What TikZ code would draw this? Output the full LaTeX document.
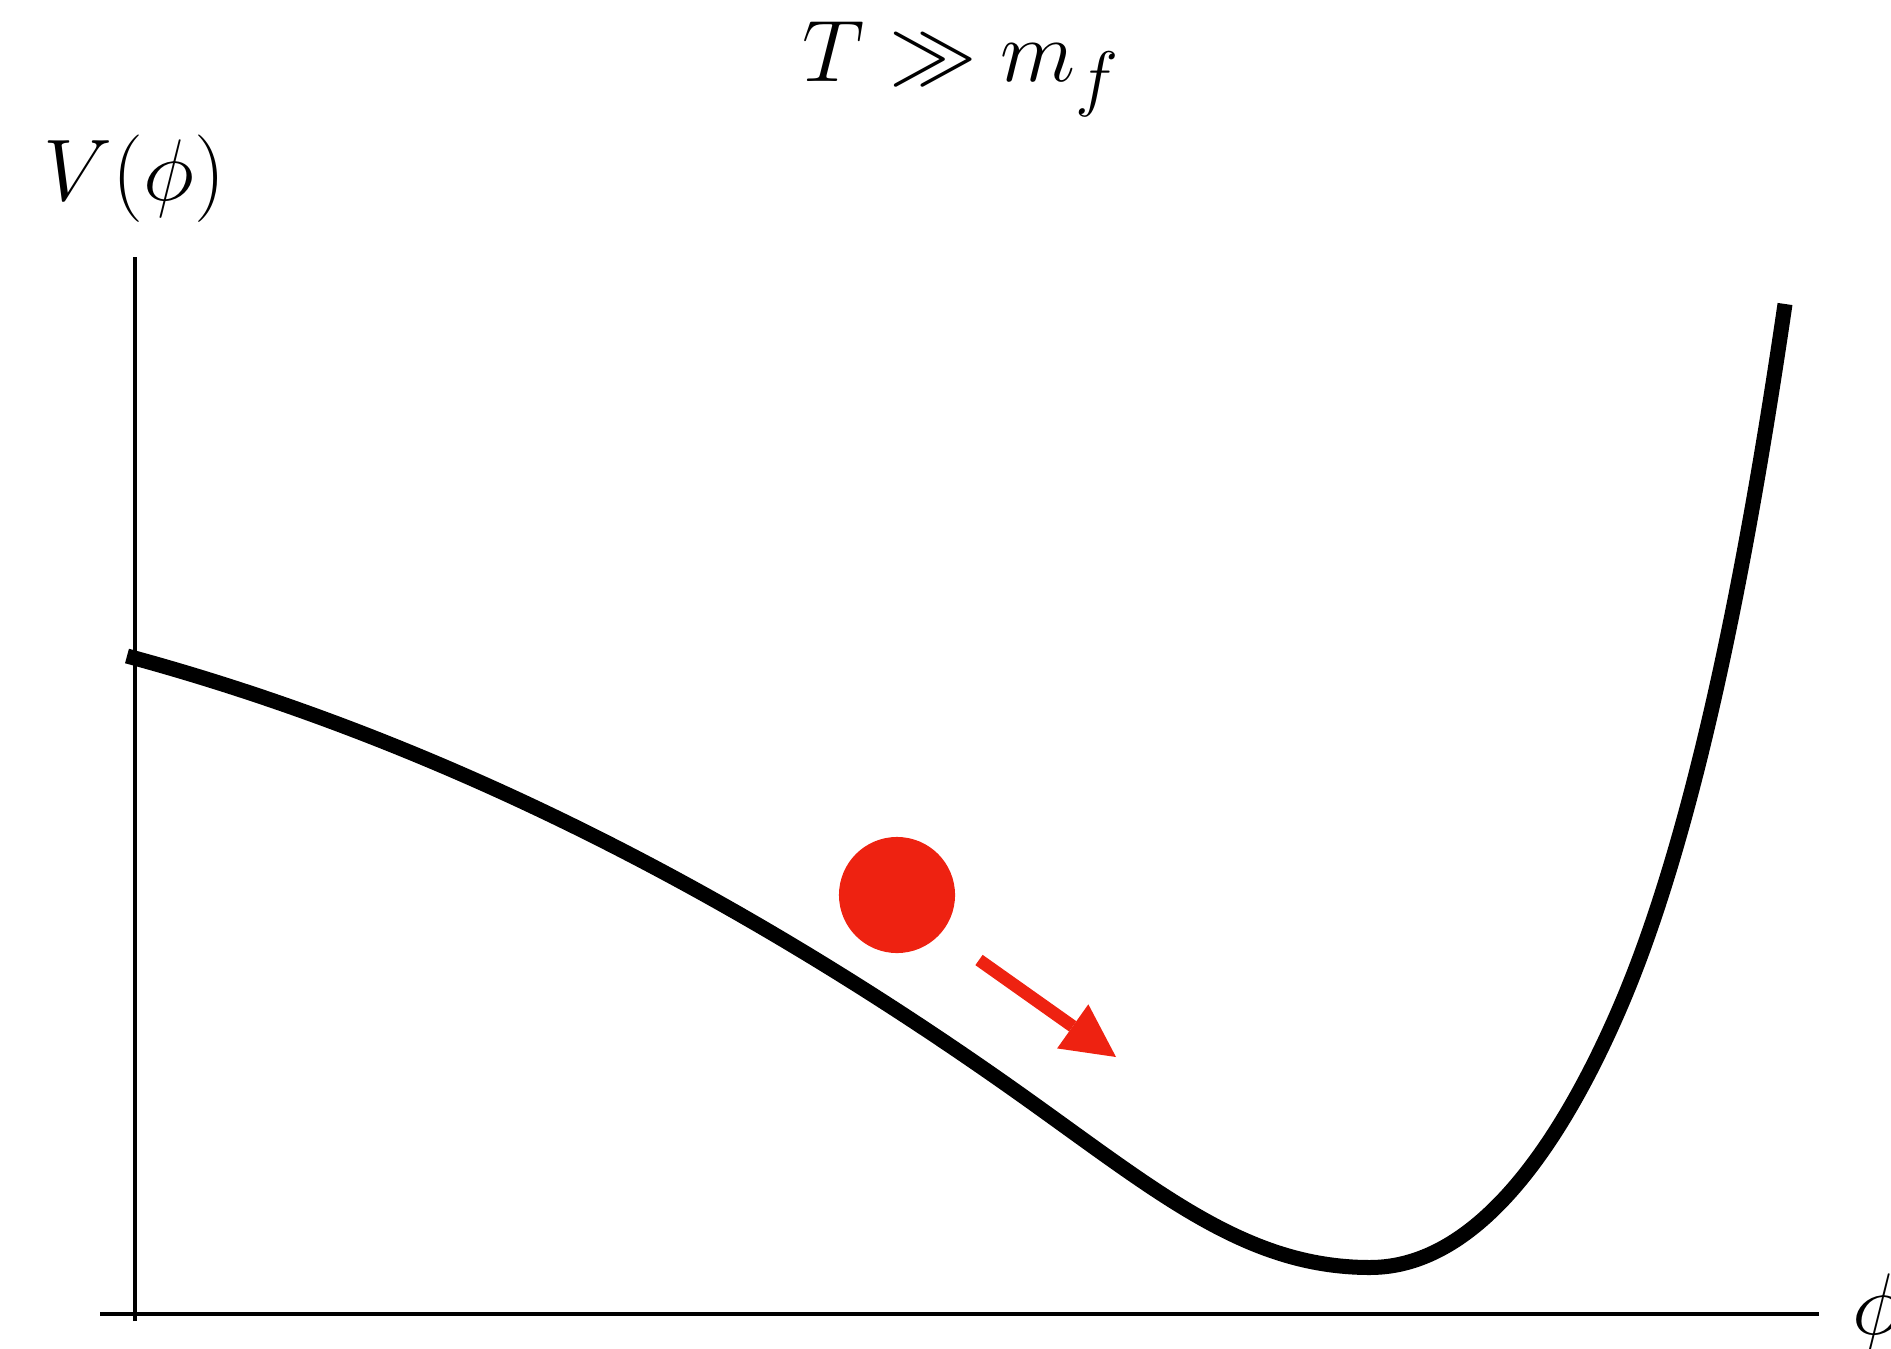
\documentclass[tikz,border=0pt]{standalone}
\usepackage{amsmath,amssymb}
\usepackage{xcolor}
\usetikzlibrary{arrows.meta}
\definecolor{ballred}{HTML}{EE2211}

\begin{document}
\begin{tikzpicture}[x=0.01cm, y=-0.01cm, font=\Huge]
  \tikzset{axisline/.style={line width=0.04cm},
    potential/.style={line width=0.15cm, line join=round},
    label/.style={anchor=base west, inner sep=0pt},
    push/.style={draw=ballred, line width=0.126cm, -{Triangle[length=0.53cm, width=0.54cm, line width=0pt]}}}
  \useasboundingbox (0,0) rectangle (1891,1349);
  % axes
  \coordinate (xstart) at (100,1313.5);
  \coordinate (xend) at (1819,1313.5);
  \coordinate (ybot) at (135,1321);
  \coordinate (ytop) at (135,257);
  \draw[axisline] (ybot) -- (ytop);
  \draw[axisline] (xstart) -- (xend);
  \node[label] (vlabel) at (43,201) {$V(\phi)$};
  \node[label] (philabel) at (1852,1334) {$\phi$};
  \node[label] (title) at (802,82) {$T \gg m_f$};
  % potential
  \draw[potential] (127,656) .. controls (417,734.3) and (708,875.7) .. (1000,1080)
    .. controls (1150,1185) and (1240,1267.5) .. (1370,1267.5)
    .. controls (1480,1267.5) and (1563,1138) .. (1618,1012)
    .. controls (1688,851.7) and (1741.2,604) .. (1785,304);
  % ball rolling down
  \node[circle, fill=ballred, minimum size=1.16cm, inner sep=0pt] (ball) at (897,895) {};
  \coordinate (pushstart) at (979,960);
  \coordinate (pushtip) at (1116,1057);
  \draw[push] (pushstart) -- (pushtip);
\end{tikzpicture}
\end{document}
